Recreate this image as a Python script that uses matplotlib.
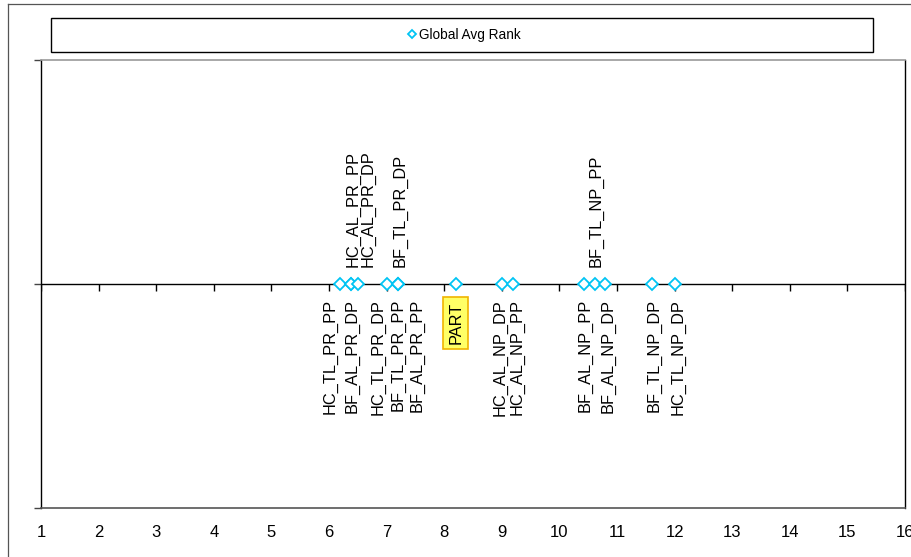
import matplotlib
matplotlib.use("Agg")
import matplotlib.pyplot as plt
from matplotlib.lines import Line2D
from matplotlib.patches import Rectangle
import numpy as np

plt.rcParams["font.family"] = ["Liberation Sans", "DejaVu Sans"]

# Configurations and their global average rank
configs = [
    "HC_TL_PR_PP", "HC_AL_PR_PP", "BF_AL_PR_DP", "HC_AL_PR_DP",
    "HC_TL_PR_DP", "BF_TL_PR_PP", "BF_TL_PR_DP", "BF_AL_PR_PP",
    "PART",
    "HC_AL_NP_DP", "HC_AL_NP_PP",
    "BF_AL_NP_PP", "BF_TL_NP_PP", "BF_AL_NP_DP",
    "BF_TL_NP_DP", "HC_TL_NP_DP",
]
avg_rank = [
    6.19, 6.39, 6.39, 6.51,
    7.01, 7.20, 7.20, 7.20,
    8.20,
    9.00, 9.19,
    10.43, 10.61, 10.79,
    11.60, 12.01,
]
rank_ticks = list(range(1, 17))
highlight = "PART"

# Label placement: side of the axis line and horizontal nudge (pixels)
label_above = [False, True, False, True,
               False, False, True, False,
               False,
               False, False,
               False, True, False,
               False, False]
label_dx = [-10, 2, 1, 10,
            -9, 0, 2, 19,
            0,
            -2, 4,
            1, 2, 3,
            2, 3]

W, H = 912, 557
fig = plt.figure(figsize=(W / 100, H / 100), dpi=100)
fig.patch.set_facecolor("white")

# outer chart border (left and top edges)
fig.add_artist(Line2D([8 / W, 8 / W], [0, 1 - 4 / H], transform=fig.transFigure,
                      color="#555555", lw=0.9))
fig.add_artist(Line2D([8 / W, 1], [1 - 4 / H, 1 - 4 / H], transform=fig.transFigure,
                      color="#555555", lw=0.9))

ax = fig.add_axes([41 / W, 1 - 508 / H, (905 - 41) / W, (508 - 60) / H])
ax.set_xlim(1, 16)
ax.set_ylim(-1, 1)

for side in ["left", "right"]:
    ax.spines[side].set_color("black")
    ax.spines[side].set_linewidth(1.0)
ax.spines["top"].set_color("#9a9a9a")
ax.spines["top"].set_linewidth(1.2)
ax.spines["bottom"].set_color("#555555")
ax.spines["bottom"].set_linewidth(1.2)

ax.set_xticks(rank_ticks)
ax.set_xticklabels([str(t) for t in rank_ticks], fontsize=12)
ax.tick_params(axis="x", length=0, pad=12)
ax.set_yticks([-1, 0, 1])
ax.set_yticklabels([])
ax.tick_params(axis="y", length=5, width=1, color="#444444")

# zero axis with downward tick marks
ax.axhline(0, color="black", lw=1.0, zorder=2)
ax.plot(rank_ticks, np.zeros(len(rank_ticks)), linestyle="none", marker=3,
        ms=5, mew=1.0, color="black", zorder=2)

diamond_color = "#00C4F4"
points, = ax.plot(avg_rank, np.zeros(len(avg_rank)), linestyle="none", marker="D",
                  ms=6.6, mfc="white", mec=diamond_color, mew=1.3, zorder=4,
                  label="Global Avg Rank")

for name, r, up, dx in zip(configs, avg_rank, label_above, label_dx):
    kw = dict(xy=(r, 0), xytext=(dx, 17 if up else -15), textcoords="offset pixels",
              rotation=90, ha="center", va="bottom" if up else "top",
              fontsize=11.8, color="black", zorder=5)
    if name == highlight:
        kw["xytext"] = (dx, -18)
        kw["bbox"] = dict(boxstyle="square,pad=0.3", fc="#FFFF66", ec="#F0B400", lw=1.2)
    ax.annotate(name, **kw)

# legend box across the top
fig.add_artist(Rectangle((51 / W, 1 - 52 / H), (873 - 51) / W, 34 / H,
                         transform=fig.transFigure, fill=False, ec="black", lw=1.0))
fig.legend(handles=[points], loc="center", bbox_to_anchor=(465 / W, 1 - 35 / H),
           frameon=False, fontsize=9.8, handlelength=0.5, handletextpad=0.25,
           markerscale=0.55, borderpad=0)

fig.savefig("out.png", dpi=100)
